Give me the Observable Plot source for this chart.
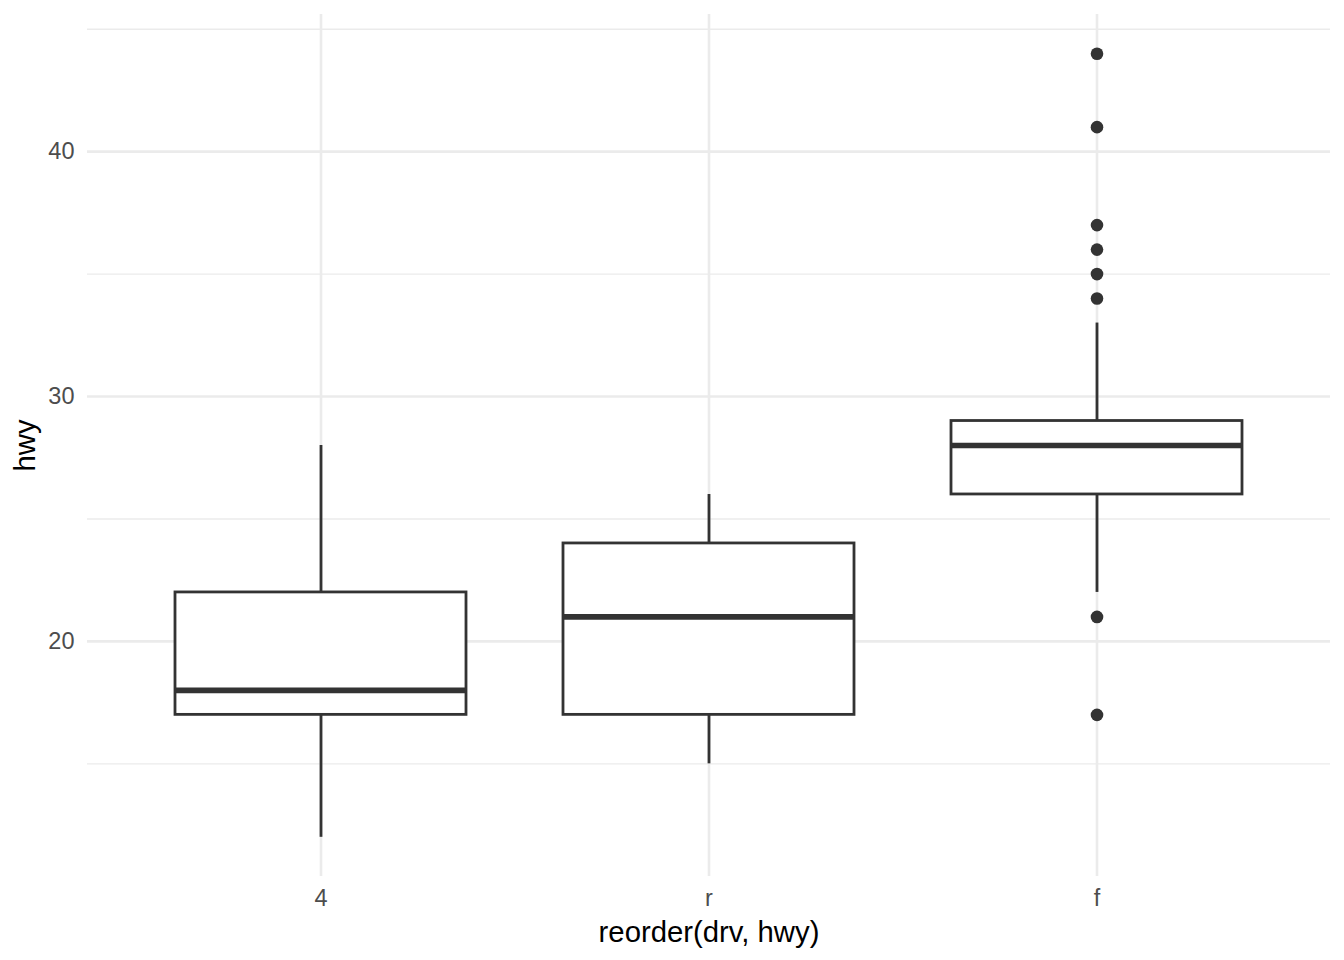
<!DOCTYPE html>
<html>
<head>
<meta charset="utf-8">
<script src="https://cdn.jsdelivr.net/npm/d3@7"></script>
<script src="https://cdn.jsdelivr.net/npm/@observablehq/plot@0.6"></script>
<style>
  html, body { margin: 0; padding: 0; background: #fff; }
  #chart svg { display: block; }
</style>
</head>
<body>
<div id="chart"></div>
<script>
// Categories (reordered by hwy)
const drv = ["4", "r", "f"];
// Boxplot summary values
const lowerWhisker = [12, 15, 22];
const q1 = [17, 17, 26];
const median = [18, 21, 28];
const q3 = [22, 24, 29];
const upperWhisker = [28, 26, 33];
// Outliers
const outlierDrv = ["f", "f", "f", "f", "f", "f", "f", "f"];
const outlierHwy = [44, 41, 37, 36, 35, 34, 21, 17];
// Ticks / grid
const majorTicks = [20, 30, 40];
const minorTicks = [15, 25, 35, 45];
const xTitle = "reorder(drv, hwy)";
const yTitle = "hwy";

const boxes = drv.map((d, i) => ({
  drv: d, lo: lowerWhisker[i], q1: q1[i], med: median[i], q3: q3[i], hi: upperWhisker[i]
}));
const outliers = outlierDrv.map((d, i) => ({drv: d, hwy: outlierHwy[i]}));

const ink = "#333333";
const grid = "#EBEBEB";

const chart = Plot.plot({
  width: 1344,
  height: 960,
  marginLeft: 87,
  marginRight: 14,
  marginTop: 14,
  marginBottom: 84,
  style: {fontFamily: "'Liberation Sans', Arial, Helvetica, sans-serif", background: "#fff"},
  x: {type: "band", domain: drv, paddingInner: 0.25, paddingOuter: 0.225, align: 0.5},
  y: {domain: [10.4, 45.6]},
  marks: [
    Plot.ruleY(minorTicks, {y: d => d, stroke: grid, strokeWidth: 1.4}),
    Plot.ruleY(majorTicks, {y: d => d, stroke: grid, strokeWidth: 2.6}),
    Plot.ruleX(drv, {x: d => d, stroke: grid, strokeWidth: 2.6}),
    Plot.axisY({ticks: majorTicks, tickSize: 0, tickPadding: 13, fontSize: 23.5, color: "#4D4D4D", label: null}),
    Plot.axisX({tickSize: 0, tickPadding: 13, fontSize: 23.5, color: "#4D4D4D", label: null}),
    Plot.ruleX(boxes, {x: "drv", y1: "q3", y2: "hi", stroke: ink, strokeWidth: 2.8}),
    Plot.ruleX(boxes, {x: "drv", y1: "lo", y2: "q1", stroke: ink, strokeWidth: 2.8}),
    Plot.barY(boxes, {x: "drv", y1: "q1", y2: "q3", fill: "white", stroke: ink, strokeWidth: 2.8}),
    Plot.tickY(boxes, {x: "drv", y: "med", stroke: ink, strokeWidth: 5.6}),
    Plot.dot(outliers, {x: "drv", y: "hwy", r: 6.3, fill: ink, stroke: "none"}),
    Plot.text([xTitle], {text: d => d, frameAnchor: "bottom", lineAnchor: "middle", textAnchor: "middle", dy: 56, fontSize: 29.3, fill: "#000"}),
    Plot.text([yTitle], {text: d => d, frameAnchor: "left", lineAnchor: "middle", textAnchor: "middle", dx: -62, rotate: -90, fontSize: 29.3, fill: "#000"})
  ]
});
document.getElementById("chart").appendChild(chart);
</script>
</body>
</html>
